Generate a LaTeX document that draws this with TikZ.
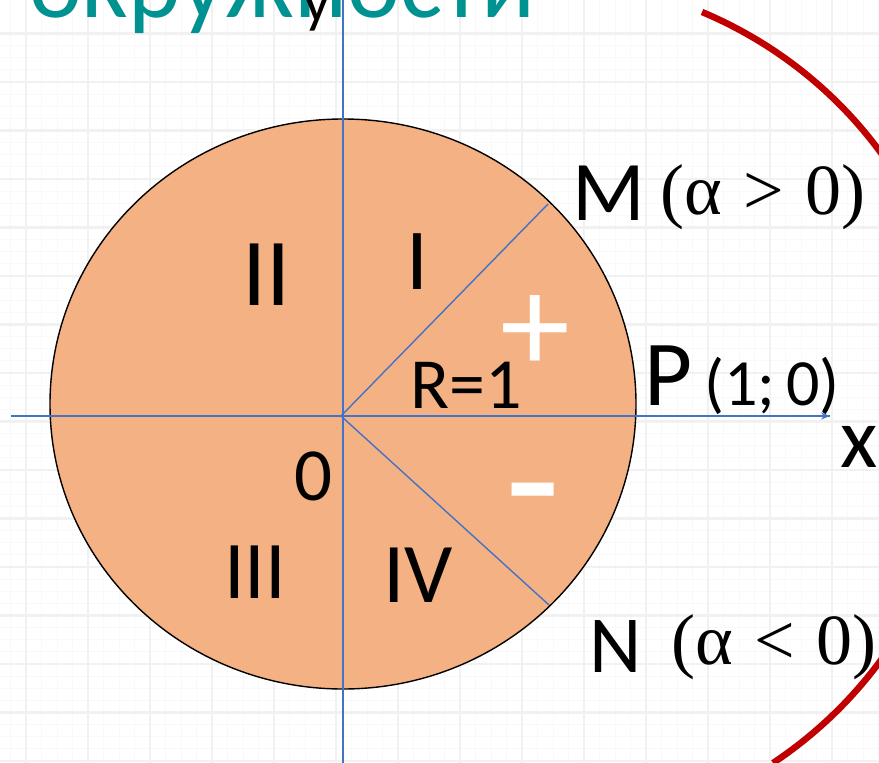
\documentclass[tikz,border=0pt]{standalone}
\usepackage{fontspec}
\setmainfont{Carlito}
\newfontfamily\tnr{Liberation Serif}
\usetikzlibrary{arrows.meta}
\definecolor{fillor}{HTML}{F4B183}
\definecolor{axblue}{HTML}{4472C4}
\definecolor{tealt}{RGB}{0,145,145}
\definecolor{redarc}{HTML}{C00000}
\tikzset{
  lbl/.style={font=\fontsize{#1}{#1}\selectfont, inner sep=0pt, anchor=base west},
  tlbl/.style={font=\tnr\fontsize{#1}{#1}\selectfont, inner sep=0pt, anchor=base west},
  axis/.style={draw=axblue, line width=1.4pt},
  gridmaj/.style={draw=black!5.5, line width=2.4pt},
  gridmin/.style={draw=black!2.5, line width=1pt},
}
\begin{document}
\begin{tikzpicture}[x=1pt,y=-1pt]
\useasboundingbox (0,0) rectangle (879,763);
\begin{scope}
\clip (0,0) rectangle (879,763);
\fill[white] (0,0) rectangle (879,763);
% background grid
\foreach \k in {0,...,60} {
  \draw[gridmin] (0,{33.5+12.125*\k}) -- (879,{33.5+12.125*\k});
  \draw[gridmin] ({26+15.5*\k-62},0) -- ({26+15.5*\k-62},763);
}
\foreach \k in {-1,...,15} {
  \draw[gridmaj] (0,{33.5+48.5*\k}) -- (879,{33.5+48.5*\k});
  \draw[gridmaj] ({26+62*\k},0) -- ({26+62*\k},763);
}
% title fragment
\node[lbl=100, text=tealt] (title) at (29,17) {окружности};
% red arc
\draw[redarc, line width=6.5pt] (702,12) arc[start angle=67.2, end angle=-56.4, radius=428pt];
% unit circle
\draw[fill=fillor, draw=black, line width=1.4pt] (343,404) ellipse[x radius=293, y radius=285];
% points
\coordinate (O) at (341,416);
\coordinate (Mp) at (548,204);
\coordinate (Np) at (549,605);
\coordinate (xl) at (11,416);
\coordinate (xr) at (830,416);
\coordinate (yb) at (343,763);
\coordinate (yt) at (343,0);
\draw[axis] (xl) -- (O) -- (xr);
\draw[axis, -{Stealth[length=9pt,width=7pt]}] (O) -- (xr);
\draw[axis] (yb) -- (yt);
\draw[axis] (O) -- (Mp);
\draw[axis] (O) -- (Np);
% labels
\node[lbl=60] (ylab) at (303,21) {y};
\node[lbl=96] (q2) at (242,305) {II};
\node[lbl=87] (q1) at (406,289) {I};
\node[lbl=82] (q3) at (224,598) {III};
\node[lbl=85] (q4) at (383,602) {IV};
\node[lbl=72] (rr) at (410,408) {R=1};
\node[lbl=75] (zero) at (294,500) {0};
\node[font=\fontsize{140}{140}\selectfont, inner sep=0pt, text=white] (plus) at (535,334) {+};
\node[font=\fontsize{180}{180}\selectfont, inner sep=0pt, text=white] (minus) at (533,512) {-};
\node[lbl=85] (Ml) at (572,220) {M};
\node[tlbl=72] (Ma) at (660,214) {(α\hspace{0.3em}>\hspace{0.3em}0)};
\node[lbl=93] (Pl) at (644,405) {P};
\node[lbl=66] (Pc) at (704,405) {(1;\,0)};
\node[lbl=86] (xlab) at (840,467) {x};
\node[lbl=81] (Nl) at (589,672) {N};
\node[tlbl=72] (Na) at (671,664) {(α\hspace{0.3em}<\hspace{0.3em}0)};
\end{scope}
\end{tikzpicture}
\end{document}
